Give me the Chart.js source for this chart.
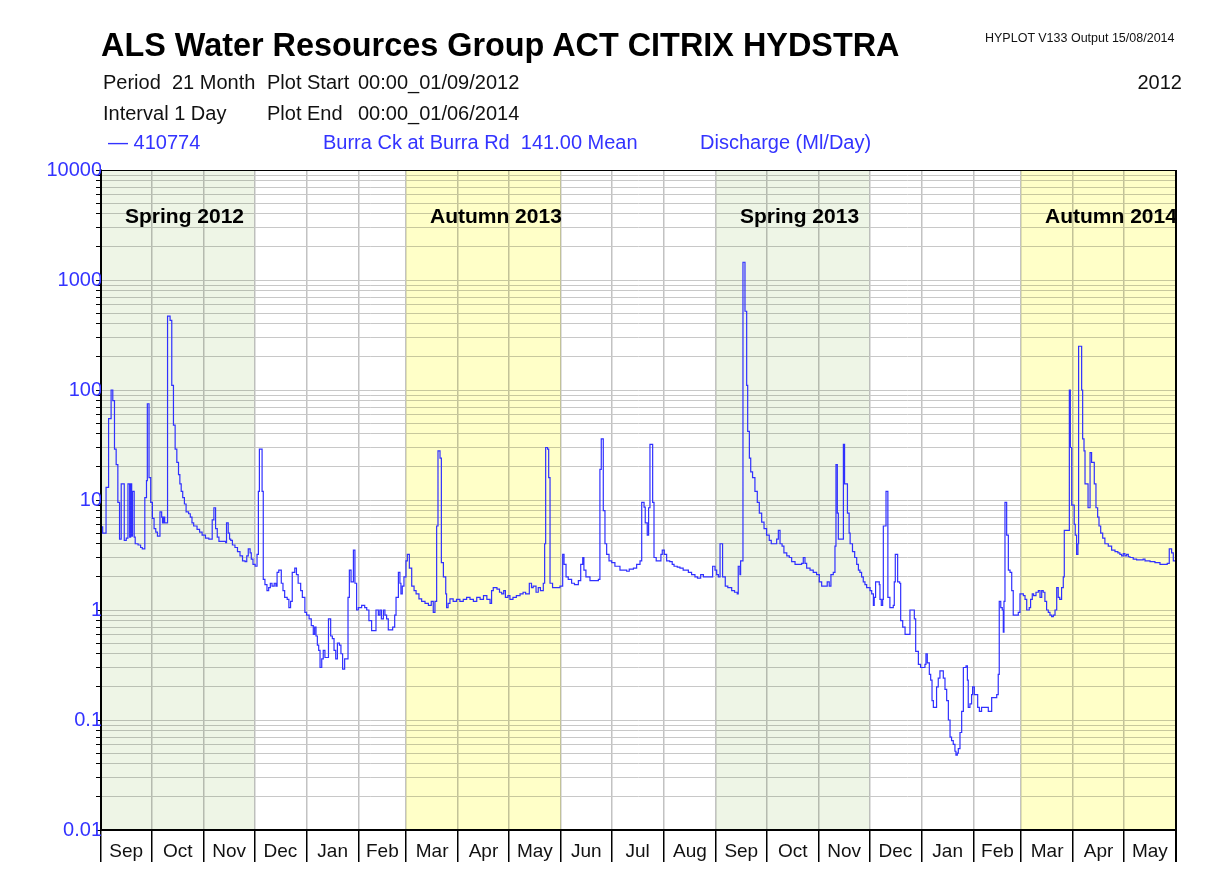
<!DOCTYPE html>
<html>
<head>
<meta charset="utf-8">
<title>Burra Ck at Burra Rd - Discharge</title>
<script src="https://cdn.jsdelivr.net/npm/chart.js@4/dist/chart.umd.min.js"></script>
<style>
  body { margin: 0; background: #fff; overflow: hidden; font-family: "Liberation Sans", Arial, Helvetica, sans-serif; }
  #wrap { position: relative; width: 1207px; height: 883px; }
  #flowChart { position: absolute; left: 0; top: 0; }
  .txt { position: absolute; white-space: pre; line-height: 1; color: #111; font-size: 20px; }
  .blue { color: #3333ff; }
</style>
</head>
<body>
<div id="wrap">
  <canvas id="flowChart" width="1207" height="883"></canvas>
  <div class="txt" style="left:101px;top:29px;font-size:32.4px;font-weight:bold;color:#000">ALS Water Resources Group ACT CITRIX HYDSTRA</div>
  <div class="txt" style="left:985px;top:32px;font-size:12.5px">HYPLOT V133 Output 15/08/2014</div>
  <div class="txt" style="left:103px;top:72px">Period  21 Month</div>
  <div class="txt" style="left:267px;top:72px">Plot Start</div>
  <div class="txt" style="left:358px;top:72px">00:00_01/09/2012</div>
  <div class="txt" style="right:25px;top:72px">2012</div>
  <div class="txt" style="left:103px;top:103px">Interval 1 Day</div>
  <div class="txt" style="left:267px;top:103px">Plot End</div>
  <div class="txt" style="left:358px;top:103px">00:00_01/06/2014</div>
  <div class="txt blue" style="left:108px;top:132px">— 410774</div>
  <div class="txt blue" style="left:323px;top:132px">Burra Ck at Burra Rd  141.00 Mean</div>
  <div class="txt blue" style="left:700px;top:132px">Discharge (Ml/Day)</div>
</div>
<script>
const FONT = '"Liberation Sans", Arial, Helvetica, sans-serif';

// month axis, days counted from 01/09/2012
const monthLabels = ['Sep', 'Oct', 'Nov', 'Dec', 'Jan', 'Feb', 'Mar', 'Apr', 'May', 'Jun', 'Jul', 'Aug',
                     'Sep', 'Oct', 'Nov', 'Dec', 'Jan', 'Feb', 'Mar', 'Apr', 'May'];
const monthStart = [0, 30, 61, 91, 122, 153, 181, 212, 242, 273, 303, 334,
                    365, 395, 426, 456, 487, 518, 546, 577, 607, 638];

const yTickLabels = ['0.01', '0.1', '1', '10', '100', '1000', '10000'];

// shaded seasons
const seasonNames = ['Spring 2012', 'Autumn 2013', 'Spring 2013', 'Autumn 2014'];
const seasonStart = [0, 181, 365, 546];
const seasonEnd = [91, 273, 456, 638];
const seasonFill = ['#eef5e6', '#ffffc8', '#eef5e6', '#ffffc8'];

// daily mean discharge (Ml/Day), change points: value holds from its day until the next one
const flowDays = [
  0, 1, 3, 4.5, 6, 7, 8, 9, 10, 11, 12, 13.8, 15, 16, 17, 17.6, 18.2, 18.7, 19.7, 20.3,
  22, 23.5, 24.5, 26, 27, 27.5, 28.5, 29.5, 30.5, 31.5, 32.5, 33.5, 35, 36, 36.5, 37.2, 37.8, 39.5, 41, 42,
  43, 44, 45, 46, 46.8, 47.6, 48.5, 49.5, 50.5, 52, 53, 54, 55, 57, 58.5, 60, 62, 64, 66, 67,
  68, 69, 70, 74, 74.5, 75.5, 76.3, 77, 78, 79.5, 81, 82.5, 84, 85.5, 86.5, 87.4, 88.5, 89.2, 90.2, 91.5,
  92.6, 93.4, 94, 95.6, 96.3, 97.3, 98.5, 99.5, 100.5, 101.5, 102.8, 103.8, 104.5, 105.5, 107, 108, 109, 110.5, 111.5, 112.5,
  113.5, 115, 116, 117, 118.5, 119.5, 121, 122, 123.5, 124.8, 126, 126.8, 127.6, 128.4, 129.2, 130, 131, 131.9, 132.9, 135,
  136.3, 137.3, 138.3, 139.3, 140.3, 141.5, 142.4, 143.4, 144.6, 146.6, 147.4, 148.4, 149.8, 150.7, 151.7, 152.7, 154.7, 156.5, 157.7, 159,
  160.6, 163.2, 164.6, 165.5, 166.4, 167.6, 168.5, 169.5, 170.5, 173.1, 174.3, 175.1, 176.5, 177.4, 178, 178.8, 179.8, 181, 181.8, 183,
  184.4, 185.8, 187, 188.7, 190.3, 192.3, 194.3, 196, 197.2, 198.2, 199.2, 200, 201.2, 202, 203.2, 204.6, 205.1, 206, 207.1, 209,
  211, 213, 215, 217, 219, 221, 223, 225, 227, 229, 230.9, 231.8, 232.8, 235, 236.5, 237.8, 239, 240, 241.5, 242.7,
  244.5, 246.5, 248.7, 250.5, 252, 254.2, 255.5, 256.5, 258.2, 259.5, 260.8, 262.5, 263.3, 263.9, 265, 265.7, 266.5, 268, 272.4, 274,
  274.8, 276, 277.3, 279.3, 281, 283.3, 284.7, 285.9, 286.6, 287.8, 290.2, 295.2, 296.1, 296.9, 298.1, 299.1, 300.1, 301.5, 303.1, 305,
  308, 312, 313.5, 316, 317.9, 319.9, 320.9, 322.3, 323, 324.2, 325, 325.8, 327.4, 328.2, 329.5, 332.3, 333.1, 334.3, 335.7, 337.5,
  339, 340.1, 342, 343.6, 345.5, 348.6, 350.5, 352.5, 354, 355.9, 357.5, 363, 364.4, 365.4, 366.4, 367.4, 368.9, 370.5, 372, 374.3,
  376, 377.6, 378.2, 379.2, 379.6, 381, 382.2, 383.2, 383.8, 384.8, 385.6, 386.7, 388.1, 389.5, 390.7, 392.1, 393.5, 395, 396.6, 397.8,
  401, 402, 403, 404.2, 405.3, 407, 408.5, 409.9, 411.9, 415.8, 416.8, 417.8, 418.8, 420.8, 422.7, 424.7, 426.3, 427.7, 431, 432.2,
  433.2, 434.6, 435.6, 436.2, 437, 437.6, 440.6, 441.3, 443, 444, 444.6, 446, 447.3, 448.5, 449.5, 450.4, 451.4, 452.4, 453.4, 454.4,
  456.4, 457.4, 458.4, 458.9, 459.7, 461.9, 462.3, 463.1, 463.9, 464.3, 465.9, 467, 468.2, 470.2, 470.8, 471.4, 472.8, 474, 474.6, 475.8,
  477.2, 480.1, 482.7, 483.5, 485.1, 486.4, 489, 489.6, 490.4, 491.6, 492.4, 493.2, 494, 495.9, 496.9, 497.9, 499.9, 500.9, 501.9, 502.9,
  503.9, 504.8, 505.8, 506.8, 507.4, 508.2, 508.8, 509.8, 510.8, 511.8, 513.4, 514.2, 514.7, 515.7, 516.7, 517.3, 518.3, 520.3, 521.3, 522.6,
  526.6, 528.6, 531.6, 532.5, 533.1, 534, 534.9, 535.5, 535.9, 536.5, 537.5, 538.5, 539.5, 540.5, 541.4, 544.4, 545.4, 547.4, 548.4, 549.4,
  550.9, 551.7, 552.7, 553.5, 554.9, 556.3, 557.3, 558.3, 559.2, 560.2, 561.2, 562.2, 563.2, 564.2, 565.2, 566.2, 567.2, 568.1, 569, 570.1,
  571.1, 571.7, 574.7, 575.3, 576.1, 577.6, 578.2, 579, 579.8, 580.2, 582, 582.6, 583.4, 584, 585.8, 587, 587.9, 589.5, 590.5, 591.5,
  592.3, 593.3, 594.5, 595.8, 597.8, 599.8, 601.8, 603.5, 604.7, 605.7, 606.7, 607.7, 608.7, 609.7, 610.7, 612.6, 614.6, 618.5, 619.6, 622.6,
  625.5, 628.5, 632.8, 634, 635.4, 636.4, 638
];
const flowValues = [
  5.7, 5.0, 13, 55, 100, 80, 29, 21, 9.5, 4.4, 14, 4.3, 4.5, 14, 4.6, 14, 4.7, 12, 4.6, 4.0,
  3.9, 3.7, 3.6, 10.5, 15, 75, 16, 9.5, 6.8, 5.5, 5.1, 4.7, 7.8, 7.0, 6.2, 7.0, 6.2, 470, 430, 110,
  48, 29, 22, 17, 14, 12, 10.5, 9.2, 7.8, 7.5, 7.0, 6.2, 5.8, 5.4, 5.1, 4.8, 4.5, 4.4, 6.6, 8.5,
  5.5, 4.6, 4.2, 4.1, 6.2, 5.0, 4.4, 4.3, 3.9, 3.7, 3.4, 3.1, 2.8, 2.75, 3.1, 3.6, 3.3, 2.9, 2.6, 2.5,
  3.2, 12, 29, 12, 1.9, 1.7, 1.5, 1.6, 1.75, 1.65, 1.75, 1.65, 2.2, 2.3, 1.75, 1.5, 1.3, 1.25, 1.05, 1.2,
  2.2, 2.4, 2.1, 1.75, 1.5, 1.3, 0.95, 0.9, 0.83, 0.72, 0.6, 0.7, 0.58, 0.48, 0.43, 0.3, 0.36, 0.43, 0.37, 0.83,
  0.58, 0.55, 0.43, 0.36, 0.5, 0.48, 0.4, 0.29, 0.36, 1.3, 2.3, 1.8, 3.5, 1.75, 1.0, 1.05, 1.1, 1.05, 1.0, 0.8,
  0.65, 1.0, 0.9, 1.0, 0.83, 1.0, 0.9, 0.83, 0.66, 0.7, 0.9, 1.3, 2.2, 1.75, 1.4, 1.65, 2.0, 2.8, 3.2, 2.4,
  1.65, 1.5, 1.4, 1.26, 1.2, 1.15, 1.1, 1.2, 0.95, 1.2, 5.8, 28, 24, 2.7, 2.0, 1.4, 1.05, 1.15, 1.26, 1.2,
  1.25, 1.2, 1.25, 1.3, 1.25, 1.2, 1.3, 1.25, 1.35, 1.25, 1.15, 1.5, 1.6, 1.55, 1.45, 1.4, 1.5, 1.3, 1.35, 1.25,
  1.3, 1.35, 1.4, 1.45, 1.4, 1.75, 1.6, 1.65, 1.45, 1.6, 1.5, 1.75, 4.0, 30, 29, 16, 1.75, 1.6, 1.65, 3.2,
  2.6, 2.0, 1.9, 1.75, 1.7, 1.85, 2.6, 3.0, 2.3, 2.0, 1.85, 1.9, 19, 36, 8, 4, 3.2, 2.8, 2.7, 2.5,
  2.3, 2.25, 2.35, 2.4, 2.6, 2.8, 9.5, 8.6, 6.2, 4.8, 8.5, 32, 9.5, 3.0, 2.8, 3.2, 3.5, 3.2, 2.8, 2.75,
  2.6, 2.5, 2.45, 2.4, 2.3, 2.2, 2.1, 2.0, 1.95, 2.1, 2.0, 2.5, 2.3, 2.1, 2.0, 4.0, 2.0, 1.65, 1.6, 1.5,
  1.45, 1.4, 2.5, 2.1, 2.8, 1450, 520, 110, 42, 24, 18, 16, 12, 9.5, 7.6, 6.3, 5.5, 4.8, 4.3, 4.0,
  4.4, 5.3, 4.0, 3.8, 3.3, 3.1, 3.0, 2.75, 2.6, 2.65, 3.0, 2.65, 2.4, 2.3, 2.2, 2.1, 1.8, 1.65, 1.8, 1.65,
  2.1, 2.2, 3.8, 21, 7.6, 4.4, 32, 14, 7.6, 5.0, 4.0, 3.4, 3.0, 2.6, 2.3, 2.2, 2.0, 1.8, 1.7, 1.6,
  1.5, 1.4, 1.1, 1.3, 1.8, 1.7, 1.25, 1.1, 1.25, 5.8, 12, 1.3, 1.05, 1.1, 1.8, 3.2, 1.8, 1.75, 0.8, 0.7,
  0.6, 1.0, 0.83, 0.42, 0.32, 0.3, 0.32, 0.4, 0.33, 0.26, 0.23, 0.15, 0.13, 0.2, 0.24, 0.28, 0.24, 0.19, 0.15, 0.1,
  0.07, 0.065, 0.06, 0.052, 0.048, 0.05, 0.055, 0.077, 0.12, 0.3, 0.31, 0.23, 0.13, 0.14, 0.17, 0.2, 0.17, 0.13, 0.12, 0.13,
  0.12, 0.16, 0.17, 0.26, 1.2, 1.05, 1.0, 0.63, 1.2, 9.5, 4.8, 2.3, 2.2, 1.5, 0.9, 0.95, 1.4, 1.35, 1.25, 1.0,
  1.05, 1.25, 1.4, 1.35, 1.45, 1.5, 1.3, 1.5, 1.45, 1.2, 1.0, 0.95, 0.9, 0.87, 0.9, 1.0, 1.6, 1.3, 1.25, 1.6,
  2.0, 5.3, 100, 30, 9, 6, 4.8, 3.2, 4, 250, 100, 36, 28, 14, 8.5, 27, 22, 14, 8.5, 7,
  5.8, 5, 4.5, 4, 3.8, 3.5, 3.4, 3.3, 3.2, 3.1, 3.25, 3.1, 3.2, 3.05, 3.0, 2.9, 2.85, 2.9, 2.8, 2.75,
  2.7, 2.6, 2.65, 3.6, 3.3, 2.8, 2.7
];

// tick positions: month edges carry the grid, month middles carry the names
const monthMid = monthLabels.map((m, i) => (monthStart[i] + monthStart[i + 1]) / 2);
const xTicks = monthStart.concat(monthMid).sort((a, b) => a - b);
const yMajor = yTickLabels.map(Number);
const yGrid = [];
yMajor.forEach((v, i) => {
  yGrid.push(v);
  if (i < yMajor.length - 1) {
    for (let d = 2; d <= 9; d++) yGrid.push(v * d);
  }
});

const isEdge = (c) => c.tick && monthStart.includes(c.tick.value);

const seasonPlugin = {
  id: 'seasons',
  beforeDatasetsDraw(chart) {
    const { ctx, chartArea: a, scales: { x } } = chart;
    ctx.save();
    // multiply so the grid shows through tinted, as on the original plot
    ctx.globalCompositeOperation = 'multiply';
    seasonStart.forEach((s, i) => {
      const x0 = x.getPixelForValue(s);
      const x1 = x.getPixelForValue(seasonEnd[i]);
      ctx.fillStyle = seasonFill[i];
      ctx.fillRect(x0, a.top, x1 - x0, a.bottom - a.top);
    });
    ctx.restore();

    ctx.save();
    ctx.font = 'bold 21px ' + FONT;
    ctx.fillStyle = '#000';
    ctx.textBaseline = 'middle';
    seasonNames.forEach((name, i) => {
      ctx.fillText(name, x.getPixelForValue(seasonStart[i]) + 24, a.top + 47);
    });
    ctx.restore();
  },
  afterDraw(chart) {
    const { ctx, chartArea: a } = chart;
    ctx.save();
    ctx.strokeStyle = '#000';
    ctx.lineWidth = 1;
    ctx.strokeRect(a.left + 0.5, a.top + 0.5, a.right - a.left - 1, a.bottom - a.top);
    ctx.beginPath();
    ctx.lineWidth = 2;
    ctx.moveTo(a.right, a.top);
    ctx.lineTo(a.right, a.bottom + 32);
    ctx.stroke();
    ctx.restore();
  }
};

new Chart(document.getElementById('flowChart'), {
  type: 'line',
  data: {
    datasets: [{
      label: '410774',
      data: flowDays.map((d, i) => ({ x: d, y: flowValues[i] })),
      borderColor: '#3030ff',
      borderWidth: 1.2,
      pointRadius: 0,
      stepped: 'before',
      fill: false
    }]
  },
  options: {
    responsive: false,
    animation: false,
    layout: { padding: { left: 0, top: 170, right: 31, bottom: 0 } },
    plugins: {
      legend: { display: false },
      title: { display: false },
      tooltip: { enabled: false }
    },
    scales: {
      x: {
        type: 'linear',
        min: 0,
        max: 638,
        afterBuildTicks: (s) => { s.ticks = xTicks.map(v => ({ value: v })); },
        afterFit: (s) => { s.height = 53; s.paddingLeft = 0; s.paddingRight = 0; },
        grid: {
          color: c => isEdge(c) ? '#c2c2c2' : 'rgba(0,0,0,0)',
          tickColor: c => isEdge(c) ? '#000' : 'rgba(0,0,0,0)',
          tickLength: 32,
          tickWidth: 1.5,
          lineWidth: 1.5
        },
        border: { color: '#000', width: 1.5 },
        ticks: {
          autoSkip: false,
          maxRotation: 0,
          padding: -22,
          color: '#111',
          font: { family: FONT, size: 19 },
          callback: (v) => {
            const i = monthMid.indexOf(v);
            return i >= 0 ? monthLabels[i] : '';
          }
        }
      },
      y: {
        type: 'logarithmic',
        min: 0.01,
        max: 10000,
        afterBuildTicks: (s) => { s.ticks = yGrid.map(v => ({ value: v })); },
        afterFit: (s) => { s.width = 101; s.paddingTop = 0; s.paddingBottom = 0; },
        grid: {
          color: '#c8c8c8',
          lineWidth: 1,
          tickLength: 5,
          tickColor: '#000'
        },
        border: { color: '#000', width: 1.5 },
        ticks: {
          autoSkip: false,
          padding: -6,
          color: '#3333ff',
          font: { family: FONT, size: 20 },
          callback: (v) => {
            const i = yMajor.indexOf(v);
            return i >= 0 ? yTickLabels[i] : '';
          }
        }
      }
    }
  },
  plugins: [seasonPlugin]
});
</script>
</body>
</html>
